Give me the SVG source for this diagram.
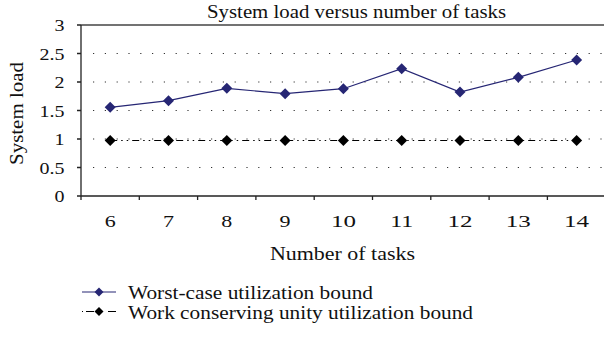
<svg xmlns="http://www.w3.org/2000/svg" width="604" height="339" viewBox="0 0 604 339">
<defs>
<style>
text{font-family:"Liberation Serif","Times New Roman",serif;fill:#111}
.tick{font-size:17.5px}
.lab{font-size:18px}
.ttl{font-size:19px}
.axis{stroke:#222;stroke-width:1.3;fill:none}
.grid{stroke:#333;stroke-width:1.2;stroke-dasharray:1.2 10.6;fill:none}
.blue{stroke:#262674;stroke-width:1.2;fill:none}
.blk{stroke:#000;stroke-width:1;fill:none;stroke-dasharray:7 4 1.5 4 1.5 4}
</style>
<path id="dia" d="M0,-5.5 L5.5,0 L0,5.5 L-5.5,0 Z"/>
<path id="dias" d="M0,-4.5 L4.5,0 L0,4.5 L-4.5,0 Z"/>
</defs>
<rect width="604" height="339" fill="#fff"/>
<g id="title"><text class="ttl" x="356.5" y="17.5" text-anchor="middle" textLength="299" lengthAdjust="spacingAndGlyphs">System load versus number of tasks</text></g>
<g id="grid">
<line class="grid" x1="93" y1="53.5" x2="604" y2="53.5"/>
<line class="grid" x1="93" y1="82" x2="604" y2="82"/>
<line class="grid" x1="93" y1="110.5" x2="604" y2="110.5"/>
<line class="grid" x1="93" y1="139" x2="604" y2="139"/>
<line class="grid" x1="93" y1="167.5" x2="604" y2="167.5"/>
</g>
<g id="axes">
<line class="axis" x1="81" y1="25" x2="604" y2="25" style="stroke:#444"/>
<line class="axis" x1="81" y1="25" x2="81" y2="196"/>
<line class="axis" x1="77" y1="196" x2="604" y2="196"/>
<path class="axis" d="M77,25H81M77,53.5H81M77,82H81M77,110.5H81M77,139H81M77,167.5H81M81,196V200M139.3,196V200M197.6,196V200M255.9,196V200M314.2,196V200M372.5,196V200M430.8,196V200M489.1,196V200M547.4,196V200"/>
</g>
<g id="yticks" class="tick" text-anchor="end">
<text x="64.5" y="31" textLength="10" lengthAdjust="spacingAndGlyphs">3</text>
<text x="64.5" y="59.5" textLength="25" lengthAdjust="spacingAndGlyphs">2.5</text>
<text x="64.5" y="88" textLength="10" lengthAdjust="spacingAndGlyphs">2</text>
<text x="64.5" y="116.5" textLength="25" lengthAdjust="spacingAndGlyphs">1.5</text>
<text x="64.5" y="145" textLength="10" lengthAdjust="spacingAndGlyphs">1</text>
<text x="64.5" y="173.5" textLength="25" lengthAdjust="spacingAndGlyphs">0.5</text>
<text x="64.5" y="202" textLength="10" lengthAdjust="spacingAndGlyphs">0</text>
</g>
<g id="xticks" class="tick" text-anchor="middle">
<text x="110.2" y="227" textLength="11" lengthAdjust="spacingAndGlyphs">6</text>
<text x="168.5" y="227" textLength="11" lengthAdjust="spacingAndGlyphs">7</text>
<text x="226.8" y="227" textLength="11" lengthAdjust="spacingAndGlyphs">8</text>
<text x="285.1" y="227" textLength="11" lengthAdjust="spacingAndGlyphs">9</text>
<text x="343.4" y="227" textLength="25" lengthAdjust="spacingAndGlyphs">10</text>
<text x="401.7" y="227" textLength="23" lengthAdjust="spacingAndGlyphs">11</text>
<text x="460" y="227" textLength="25" lengthAdjust="spacingAndGlyphs">12</text>
<text x="518.3" y="227" textLength="25" lengthAdjust="spacingAndGlyphs">13</text>
<text x="576.6" y="227" textLength="25" lengthAdjust="spacingAndGlyphs">14</text>
</g>
<g id="xlabel"><text class="lab" x="342.5" y="259.5" text-anchor="middle" textLength="145" lengthAdjust="spacingAndGlyphs">Number of tasks</text></g>
<g id="ylabel"><text class="lab" transform="translate(23,113.5) rotate(-90)" text-anchor="middle" textLength="103" lengthAdjust="spacingAndGlyphs">System load</text></g>
<g id="connectors">
<polyline class="blk" points="110.2,140.5 168.5,140.5 226.8,140.5 285.1,140.5 343.4,140.5 401.7,140.5 460,140.5 518.3,140.5 576.6,140.5"/>
<polyline class="blue" points="110.2,107.3 168.5,100.7 226.8,88.3 285.1,93.7 343.4,88.7 401.7,68.7 460,92 518.3,77.3 576.6,60"/>
</g>
<g id="series-work" fill="#000">
<use href="#dia" x="110.2" y="140.5"/><use href="#dia" x="168.5" y="140.5"/><use href="#dia" x="226.8" y="140.5"/><use href="#dia" x="285.1" y="140.5"/><use href="#dia" x="343.4" y="140.5"/><use href="#dia" x="401.7" y="140.5"/><use href="#dia" x="460" y="140.5"/><use href="#dia" x="518.3" y="140.5"/><use href="#dia" x="576.6" y="140.5"/>
</g>
<g id="series-worst" fill="#262674">
<use href="#dia" x="110.2" y="107.3"/><use href="#dia" x="168.5" y="100.7"/><use href="#dia" x="226.8" y="88.3"/><use href="#dia" x="285.1" y="93.7"/><use href="#dia" x="343.4" y="88.7"/><use href="#dia" x="401.7" y="68.7"/><use href="#dia" x="460" y="92"/><use href="#dia" x="518.3" y="77.3"/><use href="#dia" x="576.6" y="60"/>
</g>
<g id="legend">
<line class="blue" x1="82" y1="292" x2="116" y2="292"/>
<use href="#dias" x="99" y="292" fill="#262674"/>
<text class="lab" x="128" y="298.5" textLength="245" lengthAdjust="spacingAndGlyphs">Worst-case utilization bound</text>
<line class="blk" x1="82" y1="311.5" x2="116" y2="311.5" style="stroke-dasharray:1 3 8 14 8 100"/>
<use href="#dias" x="99" y="311.5" fill="#000"/>
<text class="lab" x="128" y="318.5" textLength="345" lengthAdjust="spacingAndGlyphs">Work conserving unity utilization bound</text>
</g>
</svg>
